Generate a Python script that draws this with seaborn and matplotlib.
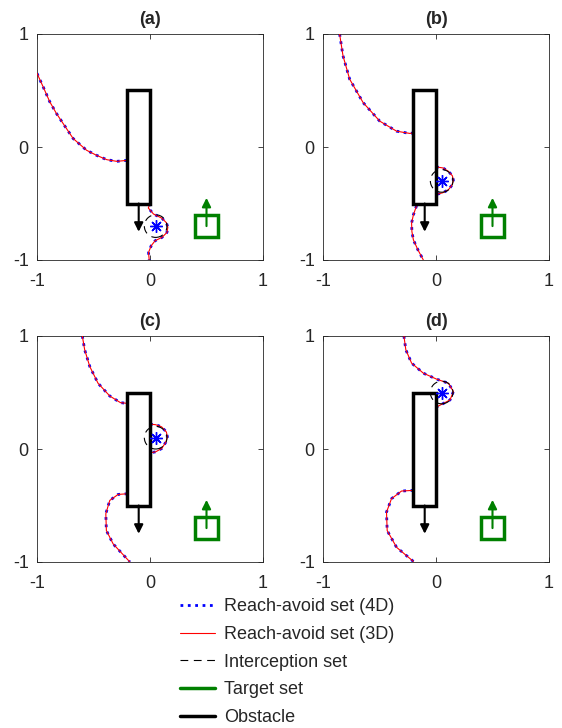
import numpy as np
import pandas as pd
import matplotlib
matplotlib.use("Agg")
import matplotlib.pyplot as plt
from matplotlib.patches import Rectangle, Circle
from matplotlib.lines import Line2D
import seaborn as sns

# ---- data ----
panel_titles = ["(a)", "(b)", "(c)", "(d)"]

# reach-avoid boundary pieces, one list of (x, y) pieces per panel
ra_a = [
    ([-1.0, -0.94, -0.887, -0.83, -0.769, -0.68, -0.561, -0.472, -0.383, -0.294, -0.2],
     [0.652, 0.52, 0.4, 0.3, 0.208, 0.075, -0.029, -0.074, -0.112, -0.127, -0.118]),
    ([0.0, -0.015, 0.031, 0.106, 0.145, 0.158, 0.15, 0.106, 0.046, 0.011, -0.013, -0.007],
     [-0.5, -0.54, -0.593, -0.631, -0.67, -0.71, -0.756, -0.8, -0.829, -0.873, -0.933, -1.0]),
]
ra_b = [
    ([-0.853, -0.823, -0.764, -0.645, -0.498, -0.349, -0.231, -0.2],
     [1.0, 0.807, 0.6, 0.393, 0.229, 0.14, 0.12, 0.125]),
    ([0.0, 0.06, 0.11, 0.145, 0.154, 0.14, 0.11, 0.06, 0.0],
     [-0.176, -0.185, -0.215, -0.255, -0.295, -0.34, -0.378, -0.405, -0.42]),
    ([-0.172, -0.2, -0.216, -0.213, -0.2, -0.16, -0.112],
     [-0.52, -0.6, -0.674, -0.75, -0.822, -0.91, -1.0]),
]
ra_c = [
    ([-0.599, -0.578, -0.533, -0.46, -0.356, -0.261, -0.2],
     [1.0, 0.878, 0.73, 0.582, 0.469, 0.41, 0.404]),
    ([0.0, 0.05, 0.103, 0.145, 0.154, 0.14, 0.103, 0.05, 0.0],
     [0.22, 0.215, 0.196, 0.15, 0.108, 0.06, 0.004, -0.025, -0.034]),
    ([-0.2, -0.282, -0.356, -0.391, -0.386, -0.326, -0.178],
     [-0.396, -0.402, -0.455, -0.573, -0.722, -0.84, -1.0]),
]
ra_d = [
    ([-0.284, -0.267, -0.216, -0.112, 0.006, 0.11, 0.154, 0.124, 0.021, 0.0],
     [1.0, 0.878, 0.76, 0.671, 0.618, 0.582, 0.508, 0.434, 0.38, 0.37]),
    ([-0.2, -0.305, -0.394, -0.438, -0.432, -0.349, -0.2],
     [-0.366, -0.372, -0.44, -0.559, -0.722, -0.87, -0.995]),
]
reach_avoid = [ra_a, ra_b, ra_c, ra_d]

evader_x = [0.05, 0.05, 0.05, 0.05]
evader_y = [-0.7, -0.3, 0.1, 0.5]
capture_radius = 0.1

obstacle_xy = (-0.2, -0.5)
obstacle_w, obstacle_h = 0.2, 1.0
obstacle_arrow = ((-0.1, -0.5), (-0.1, -0.75))

target_xy = (0.4, -0.8)
target_w, target_h = 0.2, 0.2
target_arrow = ((0.5, -0.7), (0.5, -0.45))

legend_labels = ["Reach-avoid set (4D)", "Reach-avoid set (3D)",
                 "Interception set", "Target set", "Obstacle"]

GREEN = (0, 0.5, 0)

sns.set_theme(style="ticks")
plt.rcParams["font.family"] = ["Liberation Sans", "DejaVu Sans"]
plt.rcParams["xtick.direction"] = "in"
plt.rcParams["ytick.direction"] = "in"

fig = plt.figure(figsize=(5.62, 7.28), dpi=100)
W, H = 562, 728
boxes = [(37, 34), (323, 34), (37, 336), (323, 336)]
size = 226

for i, (left, top) in enumerate(boxes):
    ax = fig.add_axes([left / W, 1 - (top + size) / H, size / W, size / H])
    for j, (xs, ys) in enumerate(reach_avoid[i]):
        df = pd.DataFrame({"x": xs, "y": ys, "piece": j})
        sns.lineplot(data=df, x="x", y="y", sort=False, estimator=None, ax=ax,
                     color="blue", linestyle=":", linewidth=2.0, zorder=2)
        sns.lineplot(data=df, x="x", y="y", sort=False, estimator=None, ax=ax,
                     color="red", linewidth=0.8, zorder=3)
    ax.add_patch(Circle((evader_x[i], evader_y[i]), capture_radius, fill=False,
                        edgecolor="black", linestyle=(0, (7, 5)), linewidth=0.8, zorder=4))
    ax.plot(evader_x[i], evader_y[i], marker=(8, 2, 0), color="blue",
            markersize=9, markeredgewidth=1.0, linestyle="none", zorder=5)
    ax.add_patch(Rectangle(obstacle_xy, obstacle_w, obstacle_h, fill=False,
                           edgecolor="black", linewidth=2.5, zorder=4))
    ax.annotate("", xy=obstacle_arrow[1], xytext=obstacle_arrow[0],
                arrowprops=dict(arrowstyle="-|>", color="black", lw=1.5,
                                mutation_scale=13, shrinkA=0, shrinkB=0), zorder=4)
    ax.add_patch(Rectangle(target_xy, target_w, target_h, fill=False,
                           edgecolor=GREEN, linewidth=2.5, zorder=4))
    ax.annotate("", xy=target_arrow[1], xytext=target_arrow[0],
                arrowprops=dict(arrowstyle="-|>", color=GREEN, lw=1.5,
                                mutation_scale=13, shrinkA=0, shrinkB=0), zorder=4)

    ax.set_xlim(-1, 1)
    ax.set_ylim(-1, 1)
    ax.set_xticks([-1, 0, 1])
    ax.set_yticks([-1, 0, 1])
    ax.set_xticklabels(["-1", "0", "1"])
    ax.set_yticklabels(["-1", "0", "1"])
    ax.set_xlabel("")
    ax.set_ylabel("")
    ax.tick_params(labelsize=13, length=3.5, width=0.6, colors="0.15",
                   top=True, right=True)
    ax.tick_params(axis="x", pad=9)
    ax.tick_params(axis="y", pad=6)
    for s in ax.spines.values():
        s.set_visible(True)
        s.set_linewidth(0.6)
        s.set_color("0.15")
    ax.set_title(panel_titles[i], fontsize=13, fontweight="bold", pad=7)

handles = [
    Line2D([], [], color="blue", linestyle=":", linewidth=2.0),
    Line2D([], [], color="red", linewidth=0.8),
    Line2D([], [], color="black", linestyle=(0, (7, 5)), linewidth=0.8),
    Line2D([], [], color=GREEN, linewidth=2.5),
    Line2D([], [], color="black", linewidth=2.5),
]
fig.legend(handles, legend_labels, loc="upper left",
           bbox_to_anchor=(180 / W, 1 - 598 / H), frameon=False, fontsize=13,
           handlelength=1.95, handletextpad=0.5, labelspacing=0.6, borderpad=0,
           borderaxespad=0)

fig.savefig("out.png", dpi=100)
